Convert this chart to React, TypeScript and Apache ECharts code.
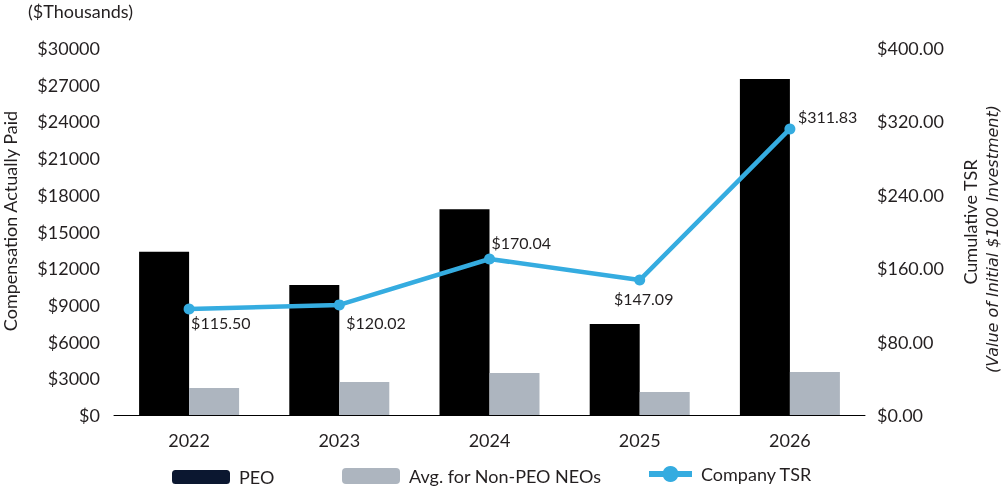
import React, { useEffect, useRef } from "react";
import * as echarts from "echarts";

const years = ["2022", "2023", "2024", "2025", "2026"];
const peo = [13350, 10630, 16820, 7440, 27470];
const nonPeo = [2210, 2700, 3430, 1880, 3520];
const tsr = [115.5, 120.02, 170.04, 147.09, 311.83];

// label placement per TSR point (style only)
const tsrLabelAlign = ["left", "left", "left", "center", "left"];
const tsrLabelOffset = [
  [2, 13],
  [7, 18],
  [2, -16],
  [4, 18],
  [8, -12],
];

const FONT = "Lato";
const TEXT = "#231f20";
const BLUE = "#35ace0";

export default function App() {
  const ref = useRef<HTMLDivElement>(null);
  useEffect(() => {
    if (!ref.current) return;
    const chart = echarts.init(ref.current, undefined, { renderer: "svg" });
    const legendText = { fontFamily: FONT, fontSize: 18, color: TEXT, padding: [0, 0, 0, 4] };
    chart.setOption({
      animation: false,
      textStyle: { fontFamily: FONT },
      grid: { left: 114, right: 141, top: 48, bottom: 75, containLabel: false },
      legend: [
        {
          left: 172,
          top: 468,
          padding: 0,
          itemWidth: 58,
          itemHeight: 14,
          textStyle: legendText,
          data: [{ name: "PEO", itemStyle: { color: "#0b1730" } }],
        },
        {
          left: 342,
          top: 467,
          padding: 0,
          itemWidth: 58,
          itemHeight: 16,
          textStyle: legendText,
          data: [{ name: "Avg. for Non-PEO NEOs" }],
        },
        {
          left: 646,
          top: 465,
          padding: 0,
          itemWidth: 43,
          itemHeight: 20,
          textStyle: legendText,
          lineStyle: { width: 6, color: BLUE },
          itemStyle: { color: BLUE },
          data: [{ name: "Company TSR" }],
        },
      ],
      xAxis: {
        type: "category",
        data: years,
        axisLine: { show: true, lineStyle: { color: "#000", width: 1 } },
        axisTick: { show: false },
        axisLabel: { fontFamily: FONT, fontSize: 18, color: TEXT, margin: 16 },
      },
      yAxis: [
        {
          type: "value",
          min: 0,
          max: 30000,
          interval: 3000,
          splitLine: { show: false },
          axisLine: { show: false },
          axisTick: { show: false },
          axisLabel: {
            fontFamily: FONT,
            fontSize: 18,
            color: TEXT,
            margin: 14,
            formatter: (v: number) => "$" + v,
          },
        },
        {
          type: "value",
          min: 0,
          max: 400,
          interval: 80,
          position: "right",
          splitLine: { show: false },
          axisLine: { show: false },
          axisTick: { show: false },
          axisLabel: {
            fontFamily: FONT,
            fontSize: 18,
            color: TEXT,
            margin: 12,
            formatter: (v: number) => "$" + v.toFixed(2),
          },
        },
      ],
      series: [
        {
          name: "PEO",
          type: "bar",
          data: peo,
          barWidth: 50,
          barGap: "0%",
          itemStyle: { color: "#000000" },
        },
        {
          name: "Avg. for Non-PEO NEOs",
          type: "bar",
          data: nonPeo,
          barWidth: 50,
          barGap: "0%",
          itemStyle: { color: "#adb5bf" },
        },
        {
          name: "Company TSR",
          type: "line",
          yAxisIndex: 1,
          z: 5,
          symbol: "circle",
          symbolSize: 11,
          lineStyle: { color: BLUE, width: 4.5 },
          itemStyle: { color: BLUE },
          data: tsr.map((v, i) => ({
            value: v,
            label: {
              show: true,
              position: "inside",
              align: tsrLabelAlign[i],
              verticalAlign: "middle",
              offset: tsrLabelOffset[i],
              formatter: "$" + v.toFixed(2),
              fontFamily: FONT,
              fontSize: 16,
              color: TEXT,
            },
          })),
        },
      ],
      graphic: [
        {
          type: "text",
          x: 28,
          y: 11,
          style: {
            text: "($Thousands)",
            fontFamily: FONT,
            fontSize: 18,
            fill: TEXT,
            align: "left",
            verticalAlign: "middle",
          },
        },
        {
          type: "text",
          x: 10,
          y: 221,
          rotation: Math.PI / 2,
          style: {
            text: "Compensation Actually Paid",
            fontFamily: FONT,
            fontSize: 18,
            fill: TEXT,
            align: "center",
            verticalAlign: "middle",
          },
        },
        {
          type: "text",
          x: 970,
          y: 222,
          rotation: Math.PI / 2,
          style: {
            text: "Cumulative TSR",
            fontFamily: FONT,
            fontSize: 18,
            fill: TEXT,
            align: "center",
            verticalAlign: "middle",
          },
        },
        {
          type: "text",
          x: 992,
          y: 239,
          rotation: Math.PI / 2,
          style: {
            text: "(Value of Initial $100 Investment)",
            fontFamily: "DejaVu Sans",
            fontSize: 16,
            fontStyle: "italic",
            fill: TEXT,
            align: "center",
            verticalAlign: "middle",
          },
        },
      ],
    });
    return () => chart.dispose();
  }, []);
  return (
    <div
      ref={ref}
      style={{ position: "fixed", left: 0, top: 0, width: 1006, height: 490 }}
    />
  );
}
